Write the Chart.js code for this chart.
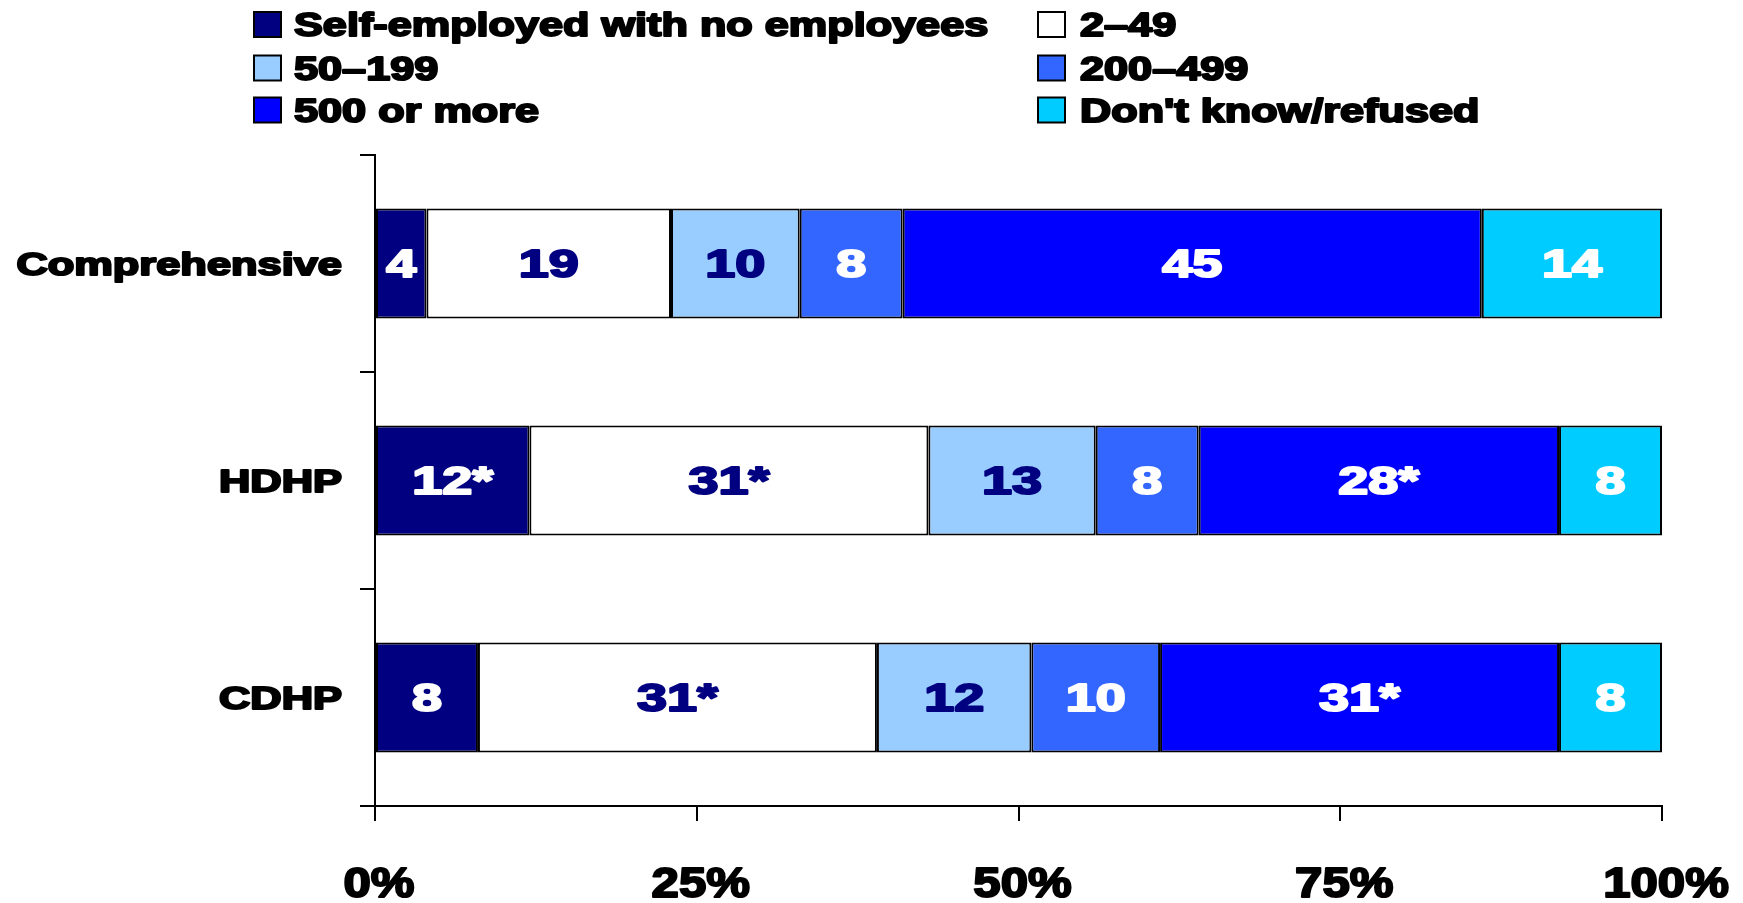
<!DOCTYPE html>
<html lang="en">
<head>
    <meta charset="UTF-8" />
    <title>Employer size by plan type</title>
    <script src="https://cdn.jsdelivr.net/npm/chart.js"></script>
    <style>
        html, body { margin: 0; padding: 0; background: #fff; }
        #wrap { position: relative; width: 1743px; height: 903px; }
    </style>
</head>
<body>
<div id="wrap"><canvas id="sizeChart"></canvas></div>

<script>
    // plan types (rows) and firm-size groups (stacked segments), in percent
    const categories = ['Comprehensive', 'HDHP', 'CDHP'];
    const seriesNames = ['Self-employed with no employees', '2–49', '50–199', '200–499', '500 or more', "Don't know/refused"];

    const selfEmployed = [4, 12, 8];
    const size2to49 = [19, 31, 31];
    const size50to199 = [10, 13, 12];
    const size200to499 = [8, 8, 10];
    const size500plus = [45, 28, 31];
    const dontKnow = [14, 8, 8];

    // '*' = significantly different from comprehensive
    const markSelfEmployed = ['', '*', ''];
    const mark2to49 = ['', '*', '*'];
    const mark50to199 = ['', '', ''];
    const mark200to499 = ['', '', ''];
    const mark500plus = ['', '*', '*'];
    const markDontKnow = ['', '', ''];

    const xTicks = [0, 25, 50, 75, 100];

    const fills = ['#000080', '#ffffff', '#99ccff', '#3366ff', '#0000ff', '#00ccff'];
    const labelColors = ['#ffffff', '#000080', '#000080', '#ffffff', '#ffffff', '#ffffff'];

    const seriesValues = [selfEmployed, size2to49, size50to199, size200to499, size500plus, dontKnow];
    const seriesMarks = [markSelfEmployed, mark2to49, mark50to199, mark200to499, mark500plus, markDontKnow];

    const FONT = '"Liberation Sans", Arial, sans-serif';

    // bold text, stretched wide and thickened, vertically centred on cap height
    function drawText(ctx, text, x, cy, size, color, sx, align) {
        ctx.save();
        ctx.font = 'bold ' + size + 'px ' + FONT;
        ctx.textAlign = 'left';
        ctx.textBaseline = 'alphabetic';
        const w = ctx.measureText(text).width * sx;
        let left = x;
        if (align === 'center') left = x - w / 2;
        else if (align === 'right') left = x - w;
        ctx.translate(left, cy + size * 0.716 / 2);
        ctx.scale(sx, 1);
        ctx.fillStyle = color;
        ctx.strokeStyle = color;
        ctx.lineWidth = 2;
        ctx.lineJoin = 'round';
        ctx.fillText(text, 0, 0);
        ctx.strokeText(text, 0, 0);
        ctx.restore();
    }

    const textPlugin = {
        id: 'textPlugin',
        afterDatasetsDraw(chart) {
            const ctx = chart.ctx;
            // value labels inside each segment
            chart.data.datasets.forEach((ds, di) => {
                const meta = chart.getDatasetMeta(di);
                meta.data.forEach((bar, i) => {
                    const p = bar.getCenterPoint();
                    const txt = ds.data[i] + seriesMarks[di][i];
                    drawText(ctx, txt, p.x, p.y, 38, labelColors[di], 1.42, 'center');
                });
            });
        },
        afterDraw(chart) {
            const ctx = chart.ctx;
            const x = chart.scales.x, y = chart.scales.y;

            // row labels
            categories.forEach((c, i) => {
                drawText(ctx, c, 342, y.getPixelForValue(i), 31, '#000', 1.4, 'right');
            });

            // percent ticks
            xTicks.forEach(v => {
                drawText(ctx, v + '%', x.getPixelForValue(v) + 4, 882, 42, '#000', 1.17, 'center');
            });

            // legend, two columns
            const colSwatch = [254, 1038];
            const colText = [294, 1080];
            const rowY = [24.5, 68, 110];
            chart.data.datasets.forEach((ds, i) => {
                const col = i % 2, row = Math.floor(i / 2);
                const cy = rowY[row];
                ctx.save();
                ctx.fillStyle = ds.backgroundColor;
                ctx.fillRect(colSwatch[col], cy - 12.5, 27, 25);
                ctx.strokeStyle = '#000';
                ctx.lineWidth = 2;
                ctx.strokeRect(colSwatch[col], cy - 12.5, 27, 25);
                ctx.restore();
                drawText(ctx, ds.label, colText[col], cy, 33, '#000', 1.31, 'left');
            });
        }
    };

    const ctx = document.getElementById('sizeChart').getContext('2d');
    new Chart(ctx, {
        type: 'bar',
        data: {
            labels: categories,
            datasets: seriesNames.map((name, i) => ({
                label: name,
                data: seriesValues[i],
                backgroundColor: fills[i],
                borderColor: '#000',
                borderWidth: 2,
                borderSkipped: false,
                categoryPercentage: 1,
                barPercentage: 0.507
            }))
        },
        options: {
            indexAxis: 'y',
            responsive: true,
            maintainAspectRatio: false,
            animation: false,
            layout: { padding: { left: 360, top: 155, right: 81, bottom: 82 } },
            plugins: {
                legend: { display: false },
                tooltip: { enabled: false }
            },
            scales: {
                x: {
                    stacked: true,
                    min: 0,
                    max: 100,
                    ticks: { stepSize: 25, display: false },
                    grid: { drawOnChartArea: false, drawTicks: true, tickLength: 15, color: '#000', lineWidth: 2 },
                    border: { display: true, color: '#000', width: 2 },
                    afterFit(scale) { scale.height = 15; }
                },
                y: {
                    stacked: true,
                    ticks: { display: false },
                    grid: { drawOnChartArea: false, drawTicks: true, tickLength: 15, color: '#000', lineWidth: 2, offset: true },
                    border: { display: true, color: '#000', width: 2 },
                    afterFit(scale) { scale.width = 15; }
                }
            }
        },
        plugins: [textPlugin]
    });
</script>
</body>
</html>
